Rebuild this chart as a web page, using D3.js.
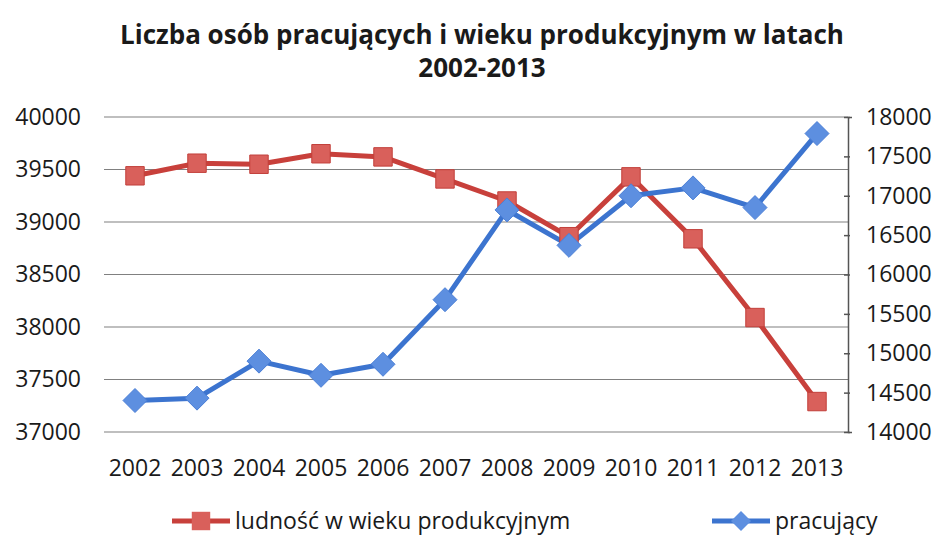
<!DOCTYPE html>
<html>
<head>
<meta charset="utf-8">
<script src="https://cdn.jsdelivr.net/npm/d3@7"></script>
<style>
  body { margin: 0; background: #fff; }
  svg { font-family: "Open Sans", sans-serif; }
</style>
</head>
<body>
<svg id="chart"></svg>
<script>
const years = ['2002', '2003', '2004', '2005', '2006', '2007', '2008', '2009', '2010', '2011', '2012', '2013'];
const ludnosc = [39440, 39560, 39550, 39650, 39620, 39410, 39200, 38860, 39430, 38840, 38090, 37290];
const pracujacy = [14400, 14430, 14900, 14720, 14860, 15680, 16820, 16370, 17000, 17100, 16850, 17790];
const leftTicks = [37000, 37500, 38000, 38500, 39000, 39500, 40000];
const rightTicks = [14000, 14500, 15000, 15500, 16000, 16500, 17000, 17500, 18000];
const titleLines = ['Liczba osób pracujących i wieku produkcyjnym w latach', '2002-2013'];
const seriesNames = ['ludność w wieku produkcyjnym', 'pracujący'];

const W = 944, H = 535;
const m = { top: 117, right: 96, bottom: 103, left: 104 };
const red = '#c8403b', redFill = '#d9605b';
const blue = '#3c74cf', blueFill = '#5d8fe0';
const fmt = d3.format('d');

const svg = d3.select('#chart').attr('width', W).attr('height', H);

// title
svg.append('g').selectAll('text')
  .data(titleLines)
  .enter().append('text')
  .attr('x', 482)
  .attr('y', (d, i) => 44 + i * 33)
  .attr('text-anchor', 'middle')
  .attr('font-weight', 'bold')
  .attr('font-size', '26px')
  .attr('fill', '#1a1a1a')
  .text(d => d);

const x = d3.scaleBand().domain(years).range([m.left, W - m.right]);
const yL = d3.scaleLinear().domain([37000, 40000]).range([H - m.bottom, m.top]);
const yR = d3.scaleLinear().domain([14000, 18000]).range([H - m.bottom, m.top]);
const cx = d => x(d) + x.bandwidth() / 2;

// gridlines
svg.append('g').selectAll('line')
  .data(leftTicks)
  .enter().append('line')
  .attr('x1', m.left).attr('x2', W - m.right)
  .attr('y1', d => yL(d)).attr('y2', d => yL(d))
  .attr('stroke', '#808080').attr('stroke-width', 1.2);

// left axis labels
const gl = svg.append('g').attr('transform', `translate(${m.left - 23},0)`)
  .call(d3.axisLeft(yL).tickValues(leftTicks).tickFormat(fmt).tickSize(0).tickPadding(0));
gl.select('.domain').remove();

// right axis
const gr = svg.append('g').attr('transform', `translate(${W - m.right},0)`)
  .call(d3.axisRight(yR).tickValues(rightTicks).tickFormat(fmt).tickSize(4).tickPadding(14));
gr.selectAll('.tick line').attr('x1', -4).attr('x2', 2);

// x axis labels
const gx = svg.append('g').attr('transform', `translate(0,${H - m.bottom + 28})`)
  .call(d3.axisBottom(x).tickSize(0).tickPadding(0));
gx.select('.domain').remove();

svg.selectAll('.tick text')
  .attr('font-family', '"Open Sans", sans-serif')
  .attr('font-size', '23px')
  .attr('fill', '#1a1a1a');
gr.selectAll('.domain, .tick line').attr('stroke', '#555').attr('stroke-width', 1.5);

// lines
const lineL = d3.line().x((d, i) => cx(years[i])).y(d => yL(d));
const lineR = d3.line().x((d, i) => cx(years[i])).y(d => yR(d));

svg.append('path').datum(ludnosc)
  .attr('d', lineL).attr('fill', 'none')
  .attr('stroke', red).attr('stroke-width', 5).attr('stroke-linejoin', 'round');
svg.append('path').datum(pracujacy)
  .attr('d', lineR).attr('fill', 'none')
  .attr('stroke', blue).attr('stroke-width', 5).attr('stroke-linejoin', 'round');

const square = d3.symbol().type(d3.symbolSquare).size(340);
// rotated square, as in the spreadsheet marker
const diamondPath = 'M0,-12L12,0L0,12L-12,0Z';

svg.append('g').selectAll('path')
  .data(ludnosc)
  .enter().append('path')
  .attr('transform', (d, i) => `translate(${cx(years[i])},${yL(d)})`)
  .attr('d', square)
  .attr('fill', redFill).attr('stroke', '#c23f3a').attr('stroke-width', 1);

svg.append('g').selectAll('path')
  .data(pracujacy)
  .enter().append('path')
  .attr('transform', (d, i) => `translate(${cx(years[i])},${yR(d)})`)
  .attr('d', diamondPath)
  .attr('fill', blueFill).attr('stroke', '#4b7fd6').attr('stroke-width', 1);

// legend
const legend = svg.append('g').attr('transform', 'translate(0,521)');
const items = [
  { name: seriesNames[0], x: 172, color: red, fill: redFill, d: square() },
  { name: seriesNames[1], x: 712, color: blue, fill: blueFill, d: 'M0,-10L10,0L0,10L-10,0Z' }
];
const li = legend.selectAll('g').data(items).enter().append('g')
  .attr('transform', d => `translate(${d.x},0)`);
li.append('line').attr('x1', 0).attr('x2', 58).attr('y1', 0).attr('y2', 0)
  .attr('stroke', d => d.color).attr('stroke-width', 5);
li.append('path').attr('transform', 'translate(29,0)')
  .attr('d', d => d.d)
  .attr('fill', d => d.fill);
li.append('text').attr('x', 63).attr('y', 8)
  .attr('font-size', '23px').attr('fill', '#1a1a1a')
  .text(d => d.name);
</script>
</body>
</html>
